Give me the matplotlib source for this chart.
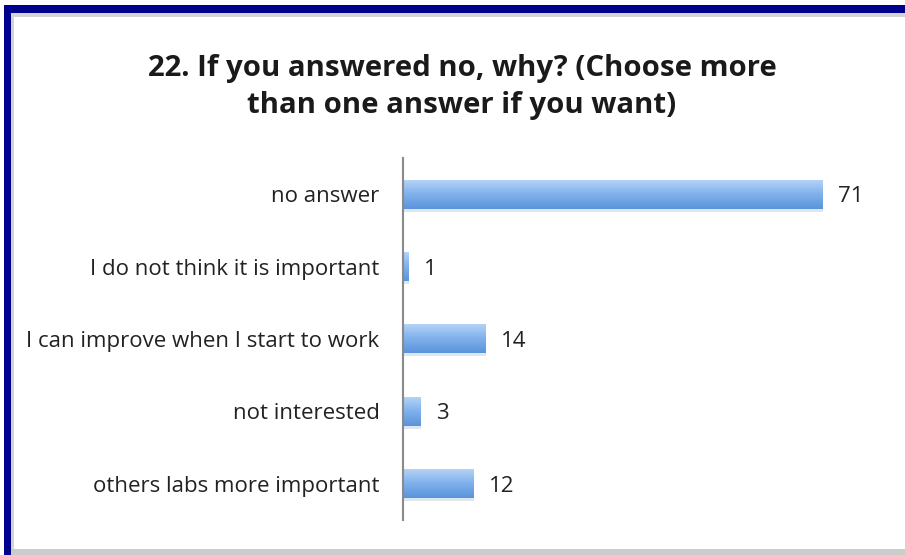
import numpy as np
import matplotlib
matplotlib.use("Agg")
import matplotlib.pyplot as plt
from matplotlib.patches import Rectangle
from matplotlib.colors import LinearSegmentedColormap

# ====== DATA ======
categories = [
    "no answer",
    "I do not think it is important",
    "I can improve when I start to work",
    "not interested",
    "others labs more important",
]
counts = [71, 1, 14, 3, 12]
title = "22. If you answered no, why? (Choose more\nthan one answer if you want)"

W, H = 905, 555
fig = plt.figure(figsize=(W / 100, H / 100), dpi=100)
fig.patch.set_facecolor("white")


def px_rect(x0, y0, x1, y1, color, z=0):
    # rectangle given in pixel coords measured from the top-left
    fig.patches.append(Rectangle((x0 / W, 1 - y1 / H), (x1 - x0) / W, (y1 - y0) / H,
                                 transform=fig.transFigure, color=color, zorder=z,
                                 linewidth=0))


# frame around the slide
px_rect(11, 13, W, 17, "#d4d4d4")
px_rect(11, 13, 14, H, "#d4d4d4")
px_rect(11, 549, W, H, "#cccccc")
px_rect(4, 5, W, 13, "#00008f")
px_rect(4, 5, 11, H, "#00008f")

ax = fig.add_axes([403 / W, 1 - 520 / H, (876 - 403) / W, (520 - 158) / H])
ax.set_facecolor("none")

ypos = np.arange(len(categories))
bars = ax.barh(ypos, counts, height=0.4, color="none", edgecolor="none")

# vertical gradient inside every bar
cmap = LinearSegmentedColormap.from_list("barblue", ["#b4d2f6", "#7eb0ec", "#5b94da"])
grad = np.linspace(0, 1, 64).reshape(-1, 1)
for b in bars:
    x0, y0, w, h = b.get_x(), b.get_y(), b.get_width(), b.get_height()
    # soft shadow under the bar
    ax.add_patch(Rectangle((x0, y0 + h), w, 0.04, color="#c9d6e6", alpha=0.6,
                           linewidth=0, zorder=1))
    ax.imshow(grad, extent=(x0, x0 + w, y0 + h, y0), aspect="auto", cmap=cmap,
              zorder=2, interpolation="bicubic")

ax.set_xlim(0, 80)
ax.set_ylim(len(categories) - 0.5, -0.5)

font = "Open Sans"
for b, v in zip(bars, counts):
    ax.text(b.get_width() + 2.6, b.get_y() + b.get_height() / 2, str(v),
            va="center_baseline", ha="left", fontsize=16, family=font,
            color="#222222")

ax.set_yticks(ypos)
ax.set_yticklabels(categories, family=font, fontsize=16, color="#222222",
                   va="center_baseline")
ax.tick_params(axis="y", length=0, pad=17)
ax.set_xticks([])

for side in ["top", "right", "bottom"]:
    ax.spines[side].set_visible(False)
ax.spines["left"].set_color("#8a8a8a")
ax.spines["left"].set_linewidth(1.5)

fig.text(462 / W, 1 - 87 / H, title, ha="center", va="center", fontsize=21.2,
         fontweight="bold", family=font, color="#1a1a1a", linespacing=1.32)

fig.savefig("out.png", dpi=100)
